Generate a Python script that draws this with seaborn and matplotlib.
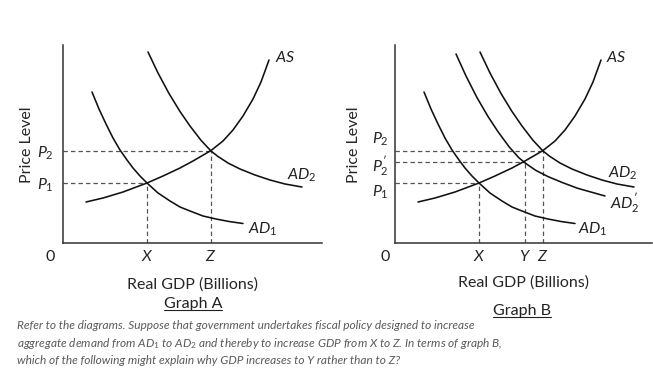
import matplotlib
matplotlib.use("Agg")
import matplotlib.pyplot as plt
import seaborn as sns
from matplotlib.lines import Line2D

# Curve points (x = real GDP, y = price level, arbitrary units)
as_x = [23, 40, 60, 84, 100, 117, 130, 148, 160, 170, 180, 190, 198, 206]
as_y = [41, 45, 51, 60, 67, 75, 82, 92.5, 102, 113, 127, 144, 161, 183]
ad1_x = [29, 36, 43, 50, 57, 64, 70, 77, 84, 95, 107, 117, 127, 140, 153, 166, 180]
ad1_y = [151, 134, 119, 105, 93, 83, 75, 67, 60, 50, 42, 36, 32, 27, 24, 21.5, 19.5]
ad2_x = [85, 95, 106, 117, 127, 138, 148, 155, 165, 177, 192, 207, 222, 239]
ad2_y = [191, 170, 149.5, 131.5, 117, 102.7, 92, 86.5, 80, 74, 68, 63, 59, 56]
ad2p_x = [61, 71, 82, 93, 103, 114, 124, 131, 141, 153, 168, 183, 198, 210]
ad2p_y = [189, 167, 145.4, 126.5, 111.3, 96.3, 85.1, 79.4, 72.5, 66.4, 60.2, 54.6, 50.4, 47]

# Equilibrium levels
gdp_x, gdp_y, gdp_z = 84, 130, 148
price_p1, price_p2p, price_p2 = 60, 81, 92

caption = ("Refer to the diagrams. Suppose that government undertakes fiscal policy designed to increase\n"
           "aggregate demand from $AD_{\\mathit{1}}$ to $AD_{\\mathit{2}}$ and thereby to increase GDP from X to Z. In terms of graph B,\n"
           "which of the following might explain why GDP increases to Y rather than to Z?")

sns.set_theme(style="white")
plt.rcParams["font.family"] = ["Lato", "DejaVu Sans"]
plt.rcParams["mathtext.fontset"] = "custom"
plt.rcParams["mathtext.it"] = "Lato:italic"
plt.rcParams["mathtext.rm"] = "Lato"
plt.rcParams["text.color"] = "#222222"

CURVE = "#111111"
GUIDE = "#555555"
FS = 11.5

fig = plt.figure(figsize=(6.53, 3.73), dpi=100)
fig.patch.set_facecolor("white")

# axes placed by pixel positions measured on the reference
ax_a = fig.add_axes([63 / 653, 1 - 243 / 373, 259 / 653, 198 / 373])
ax_b = fig.add_axes([395 / 653, 1 - 243 / 373, 257 / 653, 198 / 373])


def style_axes(ax, xmax):
    ax.set_xlim(0, xmax)
    ax.set_ylim(0, 198)
    ax.set_facecolor("white")
    for side in ["top", "right"]:
        ax.spines[side].set_visible(False)
    for side in ["left", "bottom"]:
        ax.spines[side].set_color("#333333")
        ax.spines[side].set_linewidth(1.1)
    ax.grid(False)


def guides(ax, gx, py):
    ax.hlines(py, 0, gx, colors=GUIDE, linewidth=0.9, linestyles=(0, (3.5, 2.5)))
    ax.vlines(gx, 0, py, colors=GUIDE, linewidth=0.9, linestyles=(0, (3.5, 2.5)))


def curve(ax, xs, ys):
    sns.lineplot(x=xs, y=ys, ax=ax, color=CURVE, linewidth=1.15, sort=False, estimator=None)


# Graph A
style_axes(ax_a, 259)
guides(ax_a, gdp_x, price_p1)
guides(ax_a, gdp_z, price_p2)
curve(ax_a, as_x, as_y)
curve(ax_a, ad1_x, ad1_y)
curve(ax_a, ad2_x, ad2_y)
ax_a.text(212, 185, "$AS$", fontsize=FS, va="center")
ax_a.text(224, 68, "$AD_{\\mathit{2}}$", fontsize=FS, va="center")
ax_a.text(185, 14, "$AD_{\\mathit{1}}$", fontsize=FS, va="center")
ax_a.set_yticks([price_p1, price_p2], ["$P_{\\mathit{1}}$", "$P_{\\mathit{2}}$"])
ax_a.set_xticks([gdp_x, gdp_z], ["$X$", "$Z$"])
ax_a.tick_params(axis="y", length=0, pad=6.5, labelsize=FS)
ax_a.tick_params(axis="x", length=0, pad=4, labelsize=FS)
ax_a.text(-13, -14, "0", fontsize=FS, ha="center", va="center")
ax_a.set_xlabel("Real GDP (Billions)", fontsize=FS)
ax_a.set_ylabel("Price Level", fontsize=FS)
ax_a.xaxis.set_label_coords(0.5, -0.172)
ax_a.yaxis.set_label_coords(-0.112, 0.495)

# Graph B
style_axes(ax_b, 257)
guides(ax_b, gdp_x, price_p1)
guides(ax_b, gdp_y, price_p2p)
guides(ax_b, gdp_z, price_p2)
curve(ax_b, as_x, as_y)
curve(ax_b, ad1_x, ad1_y)
curve(ax_b, ad2_x, ad2_y)
curve(ax_b, ad2p_x, ad2p_y)
ax_b.text(211, 185, "$AS$", fontsize=FS, va="center")
ax_b.text(213, 70, "$AD_{\\mathit{2}}$", fontsize=FS, va="center")
ax_b.text(215, 40, "$AD^{\\prime}_{\\mathit{2}}$", fontsize=FS, va="center")
ax_b.text(183, 14, "$AD_{\\mathit{1}}$", fontsize=FS, va="center")
ax_b.set_yticks([53, 80, 106], ["$P_{\\mathit{1}}$", "$P^{\\prime}_{\\mathit{2}}$", "$P_{\\mathit{2}}$"])
ax_b.set_xticks([gdp_x, gdp_y, gdp_z], ["$X$", "$Y$", "$Z$"])
ax_b.tick_params(axis="y", length=0, pad=4.5, labelsize=FS)
ax_b.tick_params(axis="x", length=0, pad=4, labelsize=FS)
ax_b.text(-10, -14, "0", fontsize=FS, ha="center", va="center")
ax_b.set_xlabel("Real GDP (Billions)", fontsize=FS)
ax_b.set_ylabel("Price Level", fontsize=FS)
ax_b.xaxis.set_label_coords(0.5, -0.162)
ax_b.yaxis.set_label_coords(-0.132, 0.495)

# underlined graph titles
title_a = fig.text(193 / 653, 1 - 304 / 373, "Graph A", fontsize=FS, ha="center", va="center")
title_b = fig.text(522 / 653, 1 - 311 / 373, "Graph B", fontsize=FS, ha="center", va="center")

fig.text(17 / 653, 1 - 320 / 373, caption, fontsize=8.6, style="italic", color="#5a5a5a",
         ha="left", va="top", linespacing=1.45)

fig.canvas.draw()
renderer = fig.canvas.get_renderer()
W, H = fig.bbox.width, fig.bbox.height
for t in (title_a, title_b):
    bb = t.get_window_extent(renderer)
    y_line = (bb.y0 + 1) / H
    fig.add_artist(Line2D([bb.x0 / W, bb.x1 / W], [y_line, y_line], transform=fig.transFigure,
                          color="#222222", linewidth=0.8))

fig.savefig("out.png", dpi=100)
